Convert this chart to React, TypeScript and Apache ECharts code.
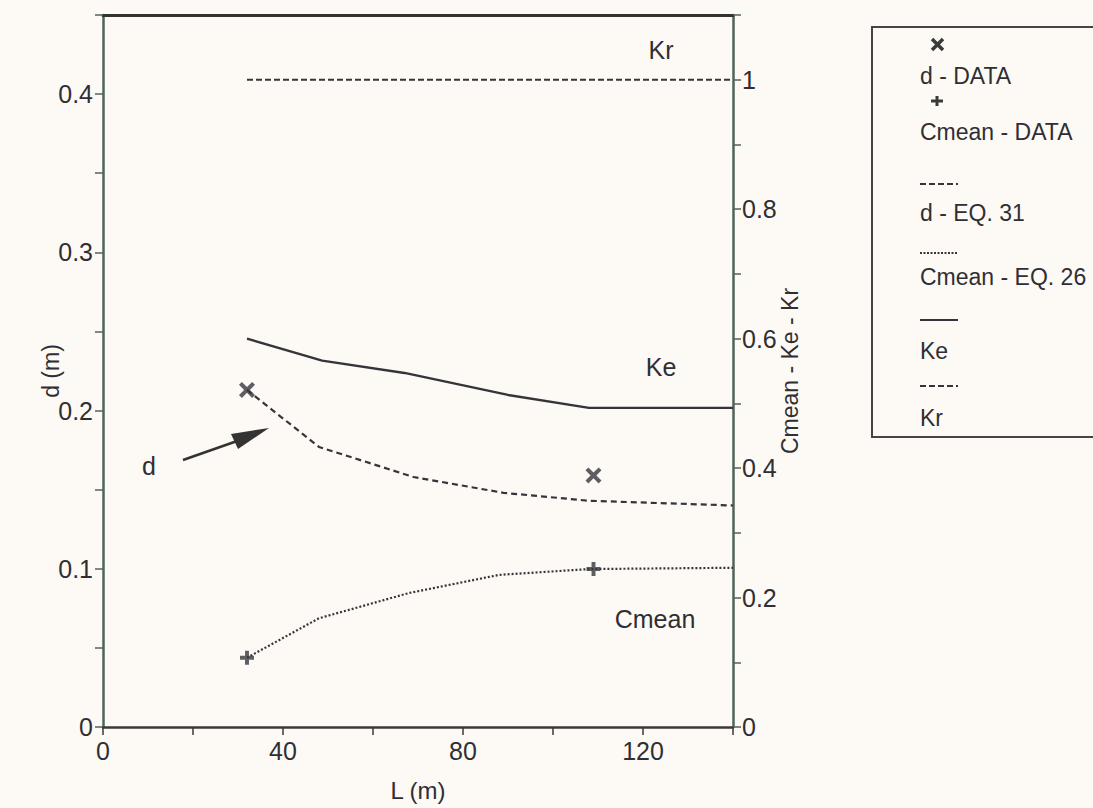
import React, { useEffect, useRef } from "react";
import * as echarts from "echarts";

// ---- data ----
const dDataL = [32, 109];
const dDataV = [0.213, 0.159];
const cmeanDataL = [32, 109];
const cmeanDataV = [0.107, 0.244];
const dEqL = [32, 48, 69, 89, 108, 140];
const dEqV = [0.213, 0.177, 0.158, 0.148, 0.143, 0.14];
const cmeanEqL = [32, 48, 68, 88, 108, 140];
const cmeanEqV = [0.107, 0.168, 0.207, 0.235, 0.244, 0.246];
const keL = [32, 48.7, 67, 90, 108, 140];
const keV = [0.6, 0.566, 0.547, 0.513, 0.493, 0.493];
const krL = [32, 140];
const krV = [1.0, 1.0];

const legendLabels = ["d - DATA", "Cmean - DATA", "d - EQ. 31", "Cmean - EQ. 26", "Ke", "Kr"];

const FONT = "Liberation Sans, Arial, Helvetica, sans-serif";
const INK = "#34343a";
const TXT = "#2f2f33";
const AXIS_GREEN = "#4f645a";

const CROSS = "path://M0,1.8 L1.8,0 L5,3.2 L8.2,0 L10,1.8 L6.8,5 L10,8.2 L8.2,10 L5,6.8 L1.8,10 L0,8.2 L3.2,5 Z";
const PLUS = "path://M3.6,0 H6.4 V3.6 H10 V6.4 H6.4 V10 H3.6 V6.4 H0 V3.6 H3.6 Z";

const zip = (xs: number[], ys: number[]) => xs.map((x, i) => [x, ys[i]]);

const fmt = (v: number) => String(Number(v.toFixed(3)));

export default function App() {
  const ref = useRef<HTMLDivElement>(null);
  useEffect(() => {
    if (!ref.current) return;
    const chart = echarts.init(ref.current, null, { renderer: "svg" });

    const legendX = 920;
    const lineW = 38;
    const legendGraphic: any[] = [
      {
        type: "rect",
        shape: { x: 872, y: 27, width: 240, height: 410 },
        style: { fill: "none", stroke: "#444", lineWidth: 2 },
      },
      // cross symbol
      { type: "line", shape: { x1: 932, y1: 39, x2: 943, y2: 50 }, style: { stroke: "#3a3a3a", lineWidth: 3.5 } },
      { type: "line", shape: { x1: 943, y1: 39, x2: 932, y2: 50 }, style: { stroke: "#3a3a3a", lineWidth: 3.5 } },
      // plus symbol
      { type: "line", shape: { x1: 931, y1: 101, x2: 943, y2: 101 }, style: { stroke: "#3a3a3a", lineWidth: 3 } },
      { type: "line", shape: { x1: 937, y1: 96, x2: 937, y2: 106 }, style: { stroke: "#3a3a3a", lineWidth: 3 } },
      // dashed
      { type: "line", shape: { x1: legendX, y1: 184, x2: legendX + lineW, y2: 184 }, style: { stroke: INK, lineWidth: 2, lineDash: [6, 3] } },
      // dotted
      { type: "line", shape: { x1: legendX, y1: 253, x2: legendX + lineW, y2: 253 }, style: { stroke: INK, lineWidth: 2, lineDash: [2, 1.5] } },
      // solid
      { type: "line", shape: { x1: legendX, y1: 320, x2: legendX + lineW, y2: 320 }, style: { stroke: INK, lineWidth: 2 } },
      // dashed Kr
      { type: "line", shape: { x1: legendX, y1: 386, x2: legendX + lineW, y2: 386 }, style: { stroke: INK, lineWidth: 2, lineDash: [6, 3] } },
    ];
    const textYs = [76, 132, 213, 277, 351, 418];
    legendLabels.forEach((t, i) => {
      legendGraphic.push({
        type: "text",
        x: legendX,
        y: textYs[i],
        style: { text: t, font: `23px ${FONT}`, fill: TXT, verticalAlign: "middle", align: "left" },
      });
    });

    const annot = (t: string, x: number, y: number) => ({
      type: "text",
      x,
      y,
      style: { text: t, font: `25px ${FONT}`, fill: TXT, verticalAlign: "middle", align: "center" },
    });

    const option: any = {
      animation: false,
      backgroundColor: "#fdfaf5",
      grid: { left: 103, right: 360, top: 15, bottom: 81, containLabel: false },
      xAxis: [
        {
          type: "value",
          min: 0,
          max: 140,
          interval: 20,
          name: "L (m)",
          nameLocation: "middle",
          nameGap: 51,
          nameMoveOverlap: false,
          nameTextStyle: { fontFamily: FONT, fontSize: 24, color: TXT },
          axisLine: { show: true, onZero: false, lineStyle: { color: "#3a3a3a", width: 2.5 } },
          axisTick: { show: true, length: 8, lineStyle: { color: "#3a3a3a", width: 1.5 } },
          axisLabel: {
            fontFamily: FONT,
            fontSize: 25,
            color: TXT,
            margin: 11,
            formatter: (v: number) => (v % 40 === 0 && v < 140 ? String(v) : ""),
          },
          splitLine: { show: false },
        },
        {
          type: "value",
          position: "top",
          min: 0,
          max: 140,
          axisLine: { show: true, onZero: false, lineStyle: { color: "#333", width: 3 } },
          axisTick: { show: false },
          axisLabel: { show: false },
          splitLine: { show: false },
        },
      ],
      yAxis: [
        {
          type: "value",
          min: 0,
          max: 0.45,
          interval: 0.05,
          name: "d (m)",
          nameLocation: "middle",
          nameGap: 41,
          nameMoveOverlap: false,
          nameRotate: 90,
          nameTextStyle: { fontFamily: FONT, fontSize: 23, color: TXT },
          axisLine: { show: true, onZero: false, lineStyle: { color: AXIS_GREEN, width: 2.5 } },
          axisTick: { show: true, length: 8, lineStyle: { color: AXIS_GREEN, width: 1.5 } },
          axisLabel: {
            fontFamily: FONT,
            fontSize: 25,
            color: TXT,
            margin: 10,
            formatter: (v: number) => {
              const t = v * 10;
              return Math.abs(t - Math.round(t)) < 1e-6 && v < 0.44 ? fmt(v) : "";
            },
          },
          splitLine: { show: false },
        },
        {
          type: "value",
          position: "right",
          min: 0,
          max: 1.1,
          interval: 0.1,
          name: "Cmean - Ke - Kr",
          nameLocation: "middle",
          nameGap: 45,
          nameMoveOverlap: false,
          nameRotate: 90,
          nameTextStyle: { fontFamily: FONT, fontSize: 23, color: TXT },
          axisLine: { show: true, onZero: false, lineStyle: { color: AXIS_GREEN, width: 2.5 } },
          axisTick: { show: true, length: 8, lineStyle: { color: AXIS_GREEN, width: 1.5 } },
          axisLabel: {
            fontFamily: FONT,
            fontSize: 25,
            color: TXT,
            margin: 9,
            formatter: (v: number) => {
              const t = v * 5;
              return Math.abs(t - Math.round(t)) < 1e-6 && v < 1.05 ? fmt(v) : "";
            },
          },
          splitLine: { show: false },
        },
      ],
      series: [
        {
          name: legendLabels[2],
          type: "line",
          yAxisIndex: 0,
          data: zip(dEqL, dEqV),
          showSymbol: false,
          lineStyle: { color: INK, width: 2.2, type: [6, 4] },
        },
        {
          name: legendLabels[3],
          type: "line",
          yAxisIndex: 1,
          data: zip(cmeanEqL, cmeanEqV),
          showSymbol: false,
          lineStyle: { color: INK, width: 2.2, type: [2, 2] },
        },
        {
          name: legendLabels[4],
          type: "line",
          yAxisIndex: 1,
          data: zip(keL, keV),
          showSymbol: false,
          lineStyle: { color: INK, width: 2.4 },
        },
        {
          name: legendLabels[5],
          type: "line",
          yAxisIndex: 1,
          data: zip(krL, krV),
          showSymbol: false,
          lineStyle: { color: INK, width: 1.8, type: [6, 3] },
        },
        {
          name: legendLabels[0],
          type: "scatter",
          yAxisIndex: 0,
          data: zip(dDataL, dDataV),
          symbol: CROSS,
          symbolSize: 16,
          itemStyle: { color: "#36363c" },
          z: 5,
        },
        {
          name: legendLabels[1],
          type: "scatter",
          yAxisIndex: 1,
          data: zip(cmeanDataL, cmeanDataV),
          symbol: PLUS,
          symbolSize: 14,
          itemStyle: { color: "#36363c" },
          z: 5,
        },
      ],
      graphic: [
        ...legendGraphic,
        annot("Kr", 661, 50),
        annot("Ke", 661, 367),
        annot("Cmean", 655, 619),
        annot("d", 149, 466),
        { type: "line", shape: { x1: 183, y1: 460, x2: 240, y2: 440 }, style: { stroke: "#333", lineWidth: 2.5 } },
        { type: "polygon", shape: { points: [[269, 428], [231, 434], [238, 449]] }, style: { fill: "#333" } },
      ],
    };
    chart.setOption(option);
    return () => chart.dispose();
  }, []);
  return (
    <div
      ref={ref}
      style={{ position: "fixed", left: 0, top: 0, width: 1093, height: 808 }}
    />
  );
}
